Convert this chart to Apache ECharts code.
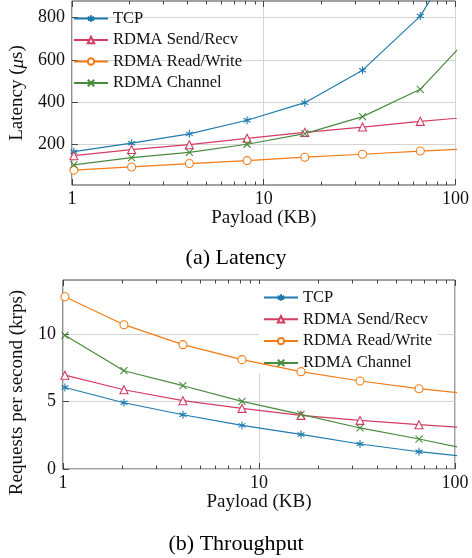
<!DOCTYPE html>
<html>
<head>
<meta charset="utf-8">
<script src="https://cdn.jsdelivr.net/npm/echarts@6/dist/echarts.min.js"></script>
<style>
html,body{margin:0;padding:0;background:#fff;}
#c{width:472px;height:558px;}
</style>
</head>
<body>
<div id="c"></div>
<script>
// ---- data (payload sizes in KB) ----
var payloadKB = [1.024, 2.048, 4.096, 8.192, 16.384, 32.768, 65.536, 131.072];
var seriesNames = ['TCP', 'RDMA Send/Recv', 'RDMA Read/Write', 'RDMA Channel'];
// Latency (µs)
var latTCP  = [167, 207, 251, 315, 398, 551, 806, 1250];
var latSend = [148, 177, 200, 230, 258, 283, 310, 333];
var latRW   = [80, 95, 111, 125, 141, 155, 170, 183];
var latChan = [105, 139, 164, 202, 252, 332, 461, 751];
// Throughput (krps)
var thrTCP  = [6.04, 4.91, 4.02, 3.23, 2.56, 1.85, 1.28, 0.84];
var thrSend = [6.95, 5.87, 5.06, 4.49, 3.97, 3.60, 3.28, 3.00];
var thrRW   = [12.76, 10.69, 9.21, 8.10, 7.21, 6.52, 5.95, 5.49];
var thrChan = [9.9, 7.28, 6.17, 5.01, 4.05, 3.04, 2.22, 1.32];
// tick labels
var xMajorTicks = [1, 10, 100];
var xMinorTicks = [2, 3, 4, 5, 6, 7, 8, 9, 20, 30, 40, 50, 60, 70, 80, 90];
var latTicks = [200, 400, 600, 800];
var thrTicks = [0, 5, 10];

var FONT = '"Liberation Serif", "Times New Roman", serif';
var colors = ['#1f7bae', '#d43c62', '#f47c16', '#4a8a3e'];
var symbols = [
  'path://M0,-10L0,10M-8.66,-5L8.66,5M-8.66,5L8.66,-5',
  'triangle',
  'circle',
  'path://M-10,-10L10,10M-10,10L10,-10'
];
var symSizes = [8, 8, 8, 7];

function pairs(vals) {
  return payloadKB.map(function (x, i) { return [x, vals[i]]; });
}

function mkSeries(gi, arrs) {
  return arrs.map(function (vals, k) {
    return {
      type: 'line',
      name: seriesNames[k],
      xAxisIndex: gi * 4,
      yAxisIndex: gi,
      z: 5,
      data: pairs(vals),
      color: colors[k],
      symbol: symbols[k],
      symbolSize: symSizes[k],
      symbolKeepAspect: true,
      showSymbol: true,
      clip: true,
      lineStyle: { color: colors[k], width: 1.2 },
      itemStyle: { color: (k === 1 || k === 2) ? '#fff' : colors[k], borderColor: colors[k], borderWidth: 1.1 },
      emphasis: { disabled: true },
      animation: false
    };
  });
}

function xAxes(gi, nameGap) {
  var base = { gridIndex: gi, type: 'log', logBase: 10, min: 1, max: 100 };
  return [
    Object.assign({}, base, {
      position: 'bottom',
      name: 'Payload (KB)', nameLocation: 'middle', nameGap: nameGap,
      nameTextStyle: { fontFamily: FONT, fontSize: 19, color: '#111' },
      axisLine: { show: false },
      axisTick: { show: true, inside: true, length: 6, lineStyle: { color: '#444' }, customValues: xMajorTicks },
      axisLabel: { fontFamily: FONT, fontSize: 18, color: '#111', margin: 5, customValues: xMajorTicks },
      splitLine: { show: true, lineStyle: { color: '#d4d4d4', width: 1 } },
      minorTick: { show: false }
    }),
    Object.assign({}, base, {
      position: 'bottom',
      axisLine: { show: false }, axisLabel: { show: false }, splitLine: { show: false },
      axisTick: { show: true, inside: true, length: 3.5, lineStyle: { color: '#444' }, customValues: xMinorTicks }
    }),
    Object.assign({}, base, {
      position: 'top',
      axisLine: { show: false }, axisLabel: { show: false }, splitLine: { show: false },
      axisTick: { show: true, inside: true, length: 6, lineStyle: { color: '#444' }, customValues: xMajorTicks }
    }),
    Object.assign({}, base, {
      position: 'top',
      axisLine: { show: false }, axisLabel: { show: false }, splitLine: { show: false },
      axisTick: { show: true, inside: true, length: 3.5, lineStyle: { color: '#444' }, customValues: xMinorTicks }
    })
  ];
}

var legendCommon = {
  orient: 'vertical',
  itemWidth: 34,
  itemHeight: 8,
  itemGap: 4.5,
  z: 2,
  selectedMode: false,
  textStyle: { fontFamily: FONT, fontSize: 16.5, color: '#111' },
  data: seriesNames
};

var option = {
  animation: false,
  backgroundColor: '#fff',
  title: [
    { text: '(a) Latency', left: 'center', top: 242, textStyle: { fontFamily: FONT, fontSize: 22, fontWeight: 'normal', color: '#000' } },
    { text: '(b) Throughput', left: 'center', top: 528, textStyle: { fontFamily: FONT, fontSize: 22, fontWeight: 'normal', color: '#000' } }
  ],
  grid: [
    { left: 62, top: 1, width: 397, height: 184, show: true, borderColor: '#444', borderWidth: 1, backgroundColor: 'transparent' },
    { left: 50, top: 280, width: 405, height: 189, show: true, borderColor: '#444', borderWidth: 1, backgroundColor: 'transparent' }
  ],
  legend: [
    Object.assign({}, legendCommon, { left: 73, top: 10, padding: 0 }),
    Object.assign({}, legendCommon, { left: 259, top: 284, itemGap: 4.8, padding: [5, 6, 2, 4], backgroundColor: '#fff' })
  ],
  xAxis: xAxes(0, 22).concat(xAxes(1, 19)),
  yAxis: [
    {
      gridIndex: 0, type: 'value', min: 10, max: 877,
      name: 'Latency ({i|μ}s)', nameLocation: 'middle', nameGap: 34,
      nameTextStyle: { fontFamily: FONT, fontSize: 19, color: '#111', rich: { i: { fontFamily: FONT, fontSize: 19, fontStyle: 'italic', color: '#111' } } },
      axisLine: { show: false },
      axisTick: { show: true, inside: true, length: 6, lineStyle: { color: '#444' }, customValues: latTicks },
      axisLabel: { fontFamily: FONT, fontSize: 18, color: '#111', margin: 7, customValues: latTicks },
      splitLine: { show: true, lineStyle: { color: '#d4d4d4', width: 1 } }
    },
    {
      gridIndex: 1, type: 'value', min: 0, max: 14,
      name: 'Requests per second (krps)', nameLocation: 'middle', nameGap: 25,
      nameTextStyle: { fontFamily: FONT, fontSize: 19, color: '#111', padding: [0, 36, 0, 0] },
      axisLine: { show: false },
      axisTick: { show: true, inside: true, length: 6, lineStyle: { color: '#444' }, customValues: thrTicks },
      axisLabel: { fontFamily: FONT, fontSize: 18, color: '#111', margin: 7, customValues: thrTicks },
      splitLine: { show: true, lineStyle: { color: '#d4d4d4', width: 1 } }
    }
  ],
  series: mkSeries(0, [latTCP, latSend, latRW, latChan]).concat(mkSeries(1, [thrTCP, thrSend, thrRW, thrChan]))
};

var chart = echarts.init(document.getElementById('c'), null, { renderer: 'canvas' });
chart.setOption(option);
</script>
</body>
</html>
